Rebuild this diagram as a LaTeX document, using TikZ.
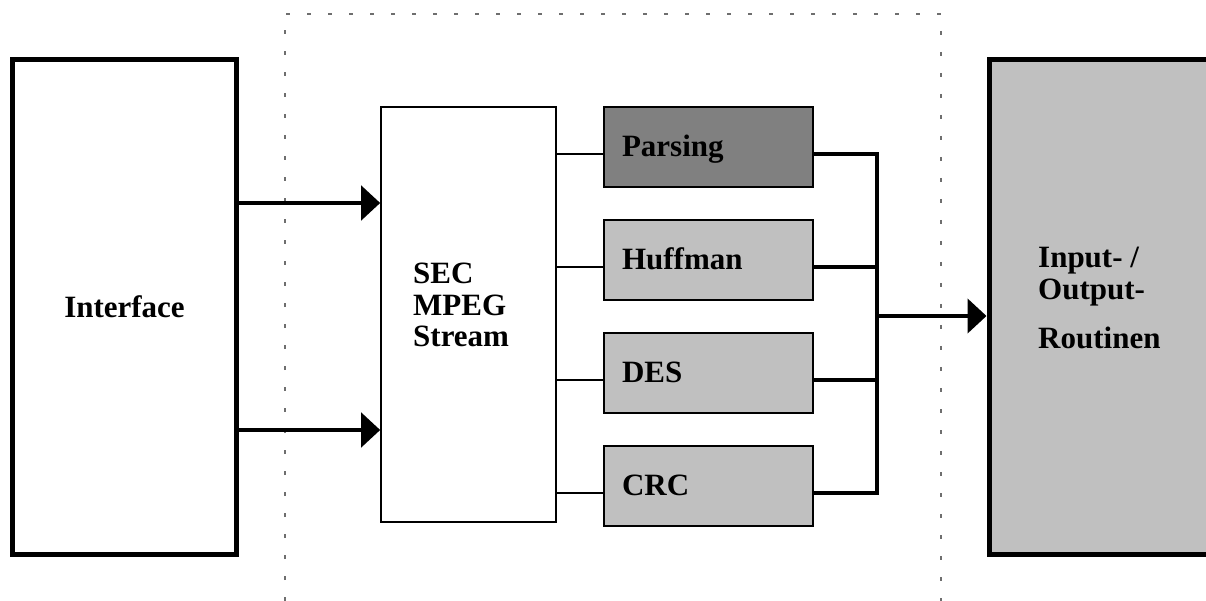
\documentclass[tikz,border=0pt]{standalone}
\usepackage{fontspec}
\setmainfont{Liberation Serif}
\usetikzlibrary{arrows.meta}
\definecolor{darkbox}{HTML}{808080}
\definecolor{lightbox}{HTML}{C0C0C0}
\definecolor{framegray}{HTML}{6E6E6E}
\begin{document}
\begin{tikzpicture}[x=1pt,y=-1pt,
  txt/.style={font=\fontsize{31}{31.5}\selectfont\bfseries},
  bigbox/.style={draw, line width=5pt, inner sep=0pt},
  midbox/.style={draw, line width=1.6pt, inner sep=0pt},
  unit/.style={draw, line width=2pt, minimum width=209pt, minimum height=80pt,
    inner sep=0pt, inner xsep=18pt, text width=173pt, align=left,
    text height=21pt, text depth=2pt, txt},
  thinline/.style={line width=1.5pt},
  heavy/.style={line width=4.5pt},
  arr/.style={line width=4.5pt, -{Triangle[length=19pt,width=34pt]}},
  frame/.style={framegray, line width=1.3pt, dash pattern=on 4pt off 17pt}]
\useasboundingbox (0,0) rectangle (1206,601);
\clip (0,0) rectangle (1206,601);
% dotted frame
\draw[frame] (285,601) -- (285,14) -- (941,14) -- (941,601);
% boxes
\node[bigbox, minimum width=224pt, minimum height=495pt, txt] (iface) at (124.5,307) {Interface};
\node[bigbox, fill=lightbox, minimum width=241pt, minimum height=495pt] (io) at (1109.5,307) {};
\node[txt, anchor=north west, align=left, inner sep=0pt] (iotxt) at (1038,247) {Input- /\\Output-\\[17.5pt]Routinen};
\node[midbox, minimum width=175pt, minimum height=415pt] (sec) at (468.5,314.5) {};
\node[txt, anchor=north west, align=left, inner sep=0pt] (sectxt) at (413,263) {SEC\\MPEG\\Stream};
\node[unit, fill=darkbox] (pars) at (708.5,147) {Parsing};
\node[unit, fill=lightbox] (huff) at (708.5,260) {Huffman};
\node[unit, fill=lightbox] (des) at (708.5,373) {DES};
\node[unit, fill=lightbox] (crc) at (708.5,486) {CRC};
% connectors
\coordinate (bus) at (877,0);
\foreach \n in {pars,huff,des,crc} {
  \coordinate (l\n) at ([yshift=-7pt]\n.west);
  \coordinate (r\n) at ([yshift=-7pt]\n.east);
  \draw[thinline] (l\n -| sec.east) -- (l\n);
}
\draw[heavy] (rpars) -- (rpars -| bus) -- (rcrc -| bus) -- (rcrc);
\draw[heavy] (rhuff) -- (rhuff -| bus);
\draw[heavy] (rdes) -- (rdes -| bus);
\coordinate (iin) at ([yshift=-9pt]io.west);
\draw[arr] (iin -| bus) -- (iin);
\coordinate (a1) at (0,203);
\coordinate (a2) at (0,430);
\draw[arr] (a1 -| iface.east) -- (a1 -| sec.west);
\draw[arr] (a2 -| iface.east) -- (a2 -| sec.west);
\end{tikzpicture}
\end{document}
